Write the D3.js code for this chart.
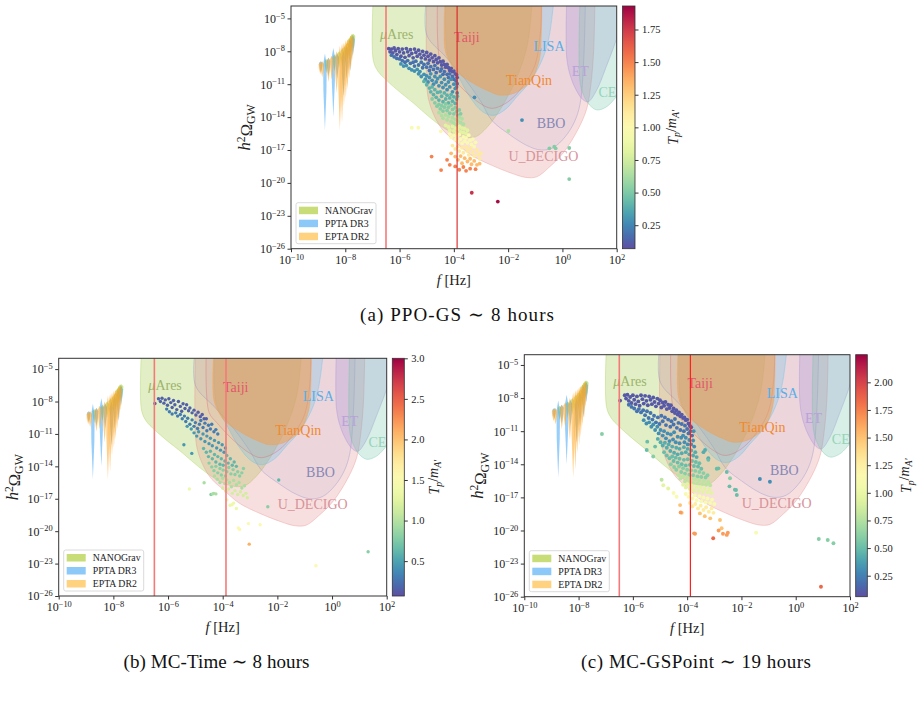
<!DOCTYPE html>
<html>
<head>
<meta charset="utf-8">
<script src="https://cdn.jsdelivr.net/npm/d3@7"></script>
<style>
  body { margin: 0; background: #fff; }
  svg { font-family: "Liberation Serif", "DejaVu Serif", serif; }
</style>
</head>
<body>
<svg id="fig" width="921" height="706"></svg>
<script>
// ---------------- data (log10 f [Hz], log10 h^2 Omega) ----------------
const xTicks = [-10, -8, -6, -4, -2, 0, 2];
const yTicks = [-26, -23, -20, -17, -14, -11, -8, -5];
const markFreqs = [-6.5, -3.88];

// detector curves, closed through the top of the plot
const muAres = [[-6.97,-3],[-6.97,-8.8],[-6.8,-9.8],[-6.5,-10.6],[-6.0,-11.7],[-5.5,-12.7],[-4.9,-14.0],[-4.3,-15.1],[-3.7,-15.8],[-3.2,-15.8],[-2.8,-15.0],[-2.45,-13.9],[-2.1,-12.5],[-1.7,-10.5],[-1.3,-7.5],[-1.1,-3]];
const uDecigo = [[-5.0,-3],[-5.0,-11.0],[-4.92,-12.5],[-4.7,-14.0],[-4.4,-15.2],[-4.0,-16.1],[-3.4,-17.4],[-2.6,-18.4],[-1.9,-19.1],[-1.35,-19.5],[-0.95,-19.45],[-0.5,-18.6],[0.05,-17.2],[0.6,-15.0],[0.9,-13.2],[1.05,-11.0],[1.15,-8],[1.2,-3]];
const bbo = [[-5.0,-3],[-5.0,-6.5],[-4.3,-8.5],[-3.6,-10.5],[-3.0,-12.6],[-2.6,-14.3],[-2.0,-15.5],[-1.3,-16.6],[-0.8,-17.0],[-0.35,-16.8],[0.1,-15.8],[0.45,-14.4],[0.65,-12.8],[0.78,-9],[0.85,-3]];
const lisa = [[-4.3,-3],[-4.25,-8.0],[-4.05,-9.3],[-3.85,-10.2],[-3.4,-12.2],[-2.95,-13.5],[-2.55,-13.85],[-2.1,-13.3],[-1.7,-12.2],[-1.2,-10.8],[-0.75,-8.8],[-0.5,-6.8],[-0.3,-3]];
const taiji = [[-4.6,-3],[-4.5,-9.0],[-4.2,-10.0],[-3.6,-11.6],[-3.0,-12.8],[-2.6,-13.2],[-2.0,-12.6],[-1.4,-11.0],[-1.0,-9.2],[-0.8,-6],[-0.78,-3]];
const tianqin = [[-4.32,-3],[-4.32,-7.9],[-4.1,-9.2],[-3.9,-9.86],[-3.28,-10.93],[-2.67,-11.69],[-2.3,-12.0],[-1.8,-11.84],[-1.19,-10.78],[-0.85,-8.8],[-0.78,-6.5],[-0.76,-3]];
const et = [[0.16,-3],[0.16,-8.6],[0.3,-10.3],[0.5,-11.5],[0.75,-12.4],[0.95,-12.6],[1.25,-11.6],[1.6,-9.5],[2.1,-6],[2.3,-3]];
const ce = [[0.65,-3],[0.65,-10.8],[0.8,-12.1],[1.0,-12.9],[1.27,-13.35],[1.6,-13.1],[1.9,-12.4],[2.2,-11.2],[2.4,-3]];

// PTA free-spectrum bins: [log10 f, upper, lower]
const nanograv = [[-8.70,-8.7,-10.0],[-8.40,-8.3,-9.8],[-8.23,-8.0,-9.5],[-8.10,-7.7,-9.5],[-8.00,-7.5,-9.0],[-7.92,-7.2,-8.8],[-7.86,-6.8,-8.6],[-7.80,-6.6,-8.2],[-7.75,-6.4,-8.0],[-7.70,-6.4,-7.8]];
const ppta = [[-8.90,-8.9,-9.9],[-8.75,-8.2,-15.2],[-8.62,-8.6,-10.3],[-8.44,-7.7,-14.0],[-8.30,-8.2,-10.5],[-8.07,-8.0,-12.1],[-7.95,-7.5,-10.5],[-7.82,-6.9,-9.8],[-7.72,-6.6,-8.4]];
const epta = [[-8.92,-9.0,-10.1],[-8.85,-8.9,-10.4],[-8.62,-8.6,-10.8],[-8.50,-8.4,-10.6],[-8.32,-8.0,-11.8],[-8.20,-7.5,-15.2],[-8.12,-7.3,-14.5],[-8.05,-7.2,-13.0],[-7.98,-7.0,-12.3],[-7.92,-6.9,-11.5],[-7.86,-6.8,-10.5],[-7.80,-6.6,-9.8],[-7.75,-6.5,-8.8]];

// scattered points, grouped by T_p / m_A'
const scatterA = [
  [0.10, [[-6.40,-7.75],[-6.35,-8.05],[-6.30,-7.80],[-6.25,-8.15],[-6.20,-7.70],[-6.15,-7.95],[-6.10,-8.30],[-6.05,-7.75],[-6.00,-8.05],[-5.95,-8.45],[-5.90,-7.80],[-5.85,-8.15],[-5.80,-8.55],[-5.75,-7.75],[-5.70,-8.05],[-5.65,-8.40],[-5.60,-7.85],[-5.55,-8.20],[-5.50,-8.60],[-5.45,-7.80],[-5.40,-8.10],[-5.35,-8.45],[-5.30,-7.90],[-5.25,-8.25],[-5.20,-8.60],[-5.15,-8.00],[-5.10,-8.35],[-5.05,-8.70],[-5.00,-8.10],[-4.95,-8.45],[-4.90,-8.80],[-4.85,-8.25],[-4.80,-8.60],[-4.75,-8.95],[-4.70,-8.40],[-4.65,-8.75],[-4.60,-9.05],[-4.55,-8.60],[-4.50,-8.95],[-4.45,-9.25],[-4.40,-8.90],[-4.35,-9.20],[-4.30,-9.45],[-4.25,-9.20],[-4.20,-9.50],[-4.15,-9.75],[-4.10,-9.55],[-4.05,-9.85],[-4.00,-9.80],[-3.95,-10.05],[-3.90,-10.15],[-3.88,-10.40]]],
  [0.18, [[-6.30,-8.35],[-6.20,-8.50],[-6.10,-8.65],[-6.00,-8.70],[-5.90,-8.85],[-5.80,-9.00],[-5.70,-8.85],[-5.60,-9.10],[-5.50,-9.00],[-5.45,-9.35],[-5.40,-8.90],[-5.30,-9.25],[-5.20,-9.00],[-5.15,-9.50],[-5.10,-9.20],[-5.00,-9.45],[-4.95,-9.10],[-4.90,-9.75],[-4.85,-9.40],[-4.75,-9.65],[-4.70,-9.30],[-4.65,-9.95],[-4.60,-9.55],[-4.50,-9.80],[-4.45,-9.60],[-4.40,-10.10],[-4.35,-9.85],[-4.25,-10.10],[-4.20,-10.40],[-4.15,-10.05],[-4.05,-10.30],[-4.00,-10.55],[-3.92,-10.70],[-3.88,-10.95]]],
  [0.28, [[-5.95,-9.15],[-5.85,-9.35],[-5.75,-9.30],[-5.65,-9.55],[-5.55,-9.70],[-5.45,-9.80],[-5.35,-9.65],[-5.30,-10.05],[-5.25,-9.85],[-5.20,-10.30],[-5.10,-10.10],[-5.05,-10.55],[-5.00,-10.25],[-4.95,-10.80],[-4.90,-10.40],[-4.85,-10.05],[-4.80,-10.65],[-4.75,-11.00],[-4.70,-10.30],[-4.65,-10.80],[-4.60,-10.50],[-4.55,-11.15],[-4.50,-10.30],[-4.45,-10.85],[-4.40,-11.30],[-4.35,-10.55],[-4.30,-11.05],[-4.25,-11.50],[-4.20,-10.80],[-4.15,-11.25],[-4.10,-10.55],[-4.05,-11.70],[-4.00,-11.00],[-3.95,-11.40],[-3.90,-11.25],[-3.88,-11.80],[-3.24,-12.2],[-1.49,-14.27]]],
  [0.40, [[-5.10,-10.75],[-5.00,-11.05],[-4.90,-11.35],[-4.85,-11.70],[-4.80,-11.25],[-4.75,-11.95],[-4.70,-11.50],[-4.65,-12.20],[-4.60,-11.75],[-4.55,-12.45],[-4.50,-11.70],[-4.45,-12.10],[-4.40,-12.60],[-4.35,-11.80],[-4.30,-12.35],[-4.25,-12.00],[-4.20,-12.70],[-4.15,-12.25],[-4.10,-11.95],[-4.05,-12.55],[-4.00,-12.15],[-3.95,-12.75],[-3.90,-12.35],[-3.87,-12.10]]],
  [0.52, [[-4.80,-12.35],[-4.70,-12.70],[-4.62,-13.00],[-4.55,-12.85],[-4.50,-13.25],[-4.45,-12.95],[-4.40,-13.45],[-4.35,-13.10],[-4.30,-12.80],[-4.25,-13.40],[-4.20,-13.10],[-4.15,-13.65],[-4.10,-12.90],[-4.05,-13.30],[-4.00,-13.70],[-3.95,-13.15],[-3.90,-13.50],[-3.85,-13.85],[-3.80,-13.35],[-3.75,-13.70],[-0.48,-16.85],[-0.30,-16.7],[-0.25,-16.85],[0.25,-16.82],[0.25,-19.65]]],
  [0.64, [[-4.55,-13.60],[-4.45,-13.85],[-4.40,-14.10],[-4.30,-13.80],[-4.25,-14.25],[-4.20,-13.95],[-4.10,-14.40],[-4.05,-14.05],[-4.00,-14.55],[-3.95,-14.20],[-3.90,-14.70],[-3.85,-14.35],[-3.80,-14.00],[-3.75,-14.50],[-3.70,-14.15],[-3.65,-14.65],[-1.99,-15.27]]],
  [0.82, [[-4.30,-14.75],[-4.20,-14.90],[-4.15,-15.20],[-4.05,-14.85],[-4.00,-15.25],[-3.95,-15.00],[-3.90,-15.45],[-3.85,-15.10],[-3.80,-14.85],[-3.75,-15.35],[-3.70,-15.00],[-3.65,-15.40],[-3.60,-15.05],[-3.55,-15.50],[-3.50,-15.20]]],
  [0.98, [[-4.15,-15.55],[-4.10,-15.85],[-4.00,-15.65],[-3.95,-16.05],[-3.90,-15.75],[-3.85,-16.25],[-3.80,-15.60],[-3.75,-16.00],[-3.70,-16.40],[-3.65,-15.80],[-3.60,-16.20],[-3.55,-15.90],[-3.50,-16.35],[-3.45,-15.65],[-3.40,-16.10],[-3.35,-16.50],[-3.30,-16.00],[-3.25,-16.70],[-3.20,-16.30],[-5.55,-14.97],[-5.31,-14.97],[-4.48,-15.3]]],
  [1.12, [[-4.05,-16.60],[-3.95,-16.90],[-3.85,-16.70],[-3.80,-17.10],[-3.70,-16.80],[-3.65,-17.25],[-3.55,-16.75],[-3.50,-17.10],[-3.45,-17.45],[-3.40,-16.85],[-3.30,-17.20],[-3.25,-17.55],[-3.15,-17.00],[-3.10,-17.40],[-3.05,-17.80],[-3.00,-17.30]]],
  [1.32, [[-4.10,-17.30],[-3.95,-17.60],[-3.85,-17.90],[-3.75,-17.55],[-3.70,-18.20],[-3.60,-17.75],[-3.50,-18.05],[-3.40,-17.80],[-3.35,-18.30],[-3.25,-18.00],[-3.15,-18.35],[-3.05,-18.25]]],
  [1.50, [[-4.82,-17.6],[-4.47,-18.83],[-4.25,-17.9],[-4.15,-18.35],[-3.95,-18.5],[-3.80,-18.8],[-3.65,-18.55],[-3.55,-18.9],[-3.40,-18.7],[-3.20,-18.75]]],
  [1.78, [[-3.34,-20.9]]],
  [1.90, [[-2.38,-21.7]]]
];

const scatterB = [
  [0.15, [[-6.48,-8.18],[-6.35,-7.75],[-6.28,-8.0],[-6.22,-7.7],[-6.15,-8.15],[-6.1,-7.85],[-6.02,-8.35],[-5.97,-7.75],[-5.9,-8.1],[-5.85,-8.55],[-5.8,-7.9],[-5.75,-8.3],[-5.68,-8.75],[-5.62,-8.0],[-5.55,-8.45],[-5.5,-8.9],[-5.45,-8.2],[-5.38,-8.65],[-5.32,-8.3],[-5.25,-8.85],[-5.2,-8.6],[-5.12,-9.05],[-5.05,-8.8],[-4.98,-9.25],[-4.9,-9.0],[-4.82,-9.4],[-4.75,-9.2],[-4.68,-9.6],[-4.6,-9.6]]],
  [0.30, [[-6.05,-8.7],[-5.95,-8.95],[-5.85,-9.15],[-5.72,-9.05],[-5.65,-9.35],[-5.55,-9.2],[-5.48,-9.6],[-5.4,-9.35],[-5.35,-9.85],[-5.28,-9.55],[-5.2,-10.1],[-5.12,-9.7],[-5.05,-10.3],[-5.0,-9.95],[-4.92,-10.5],[-4.85,-10.1],[-4.8,-9.75],[-4.72,-10.4],[-4.65,-10.0],[-4.58,-10.7],[-4.52,-10.2],[-4.45,-10.55],[-4.4,-10.1],[-4.32,-10.8],[-4.25,-10.6],[-4.18,-11.0]]],
  [0.45, [[-5.3,-10.3],[-5.15,-10.55],[-5.05,-10.9],[-4.95,-11.2],[-4.88,-10.8],[-4.8,-11.45],[-4.72,-11.0],[-4.65,-11.7],[-4.58,-11.2],[-4.5,-11.9],[-4.45,-11.4],[-4.38,-12.1],[-4.3,-11.6],[-4.22,-12.3],[-4.15,-11.8],[-4.08,-12.5],[-4.02,-12.0],[-3.95,-12.7],[-3.9,-12.3],[-5.42,-12.0],[-5.13,-12.8]]],
  [0.62, [[-4.7,-12.35],[-4.6,-12.7],[-4.52,-13.1],[-4.45,-12.6],[-4.38,-13.3],[-4.3,-12.9],[-4.25,-13.6],[-4.18,-13.1],[-4.1,-13.8],[-4.05,-13.3],[-3.98,-13.9],[-3.92,-13.5],[-3.85,-13.0],[-3.8,-13.7],[-3.72,-13.3],[-3.65,-13.9],[-3.58,-13.6],[-3.5,-14.0],[-1.95,-15.27]]],
  [0.80, [[-4.5,-13.7],[-4.4,-14.05],[-4.32,-14.4],[-4.25,-14.0],[-4.18,-14.6],[-4.1,-14.2],[-4.05,-14.8],[-3.98,-14.35],[-3.9,-14.9],[-3.85,-14.5],[-3.78,-14.1],[-3.7,-14.7],[-3.62,-14.3],[-3.55,-14.75],[-3.45,-14.5],[-3.38,-14.9],[-3.3,-14.6],[-3.24,-14.2],[-4.43,-16.6],[-2.35,-17.74],[1.32,-21.9]]],
  [0.95, [[-4.3,-14.9],[-4.2,-15.2],[-4.1,-15.5],[-4.0,-15.1],[-3.92,-15.6],[-3.85,-15.25],[-3.75,-15.5],[-3.68,-15.9],[-3.6,-15.3],[-3.5,-15.7],[-3.4,-15.5],[-3.3,-16.0],[-3.2,-15.8],[-4.68,-15.52],[-4.37,-16.55],[-4.33,-16.5],[-4.25,-16.55]]],
  [1.15, [[-4.0,-16.0],[-3.88,-16.3],[-3.78,-16.1],[-3.65,-16.5],[-3.55,-16.25],[-3.45,-16.6],[-3.35,-16.35],[-3.25,-16.7],[-3.15,-16.5],[-3.1,-16.9]]],
  [1.35, [[-5.22,-16.1],[-3.85,-17.1],[-3.73,-17.6],[-3.66,-17.55],[-3.6,-17.4],[-3.5,-17.9]]],
  [1.55, [[-3.43,-19.7],[-3.38,-19.85],[-3.06,-19.3],[-2.63,-19.4],[-0.59,-23.2]]],
  [2.10, [[-3.03,-21.2]]]
];

const scatterC = [
  [0.10, [[-6.47,-8.23],[-6.3,-7.75],[-6.25,-8.05],[-6.2,-7.7],[-6.15,-8.25],[-6.1,-7.9],[-6.05,-8.45],[-6.0,-7.75],[-5.95,-8.15],[-5.9,-8.55],[-5.85,-7.85],[-5.8,-8.3],[-5.75,-8.7],[-5.7,-7.75],[-5.65,-8.1],[-5.6,-8.5],[-5.55,-7.8],[-5.5,-8.25],[-5.45,-8.65],[-5.4,-7.85],[-5.35,-8.15],[-5.3,-8.55],[-5.25,-7.95],[-5.2,-8.35],[-5.15,-8.75],[-5.1,-8.05],[-5.05,-8.5],[-5.0,-8.2],[-4.95,-8.85],[-4.9,-8.4],[-4.85,-8.7],[-4.8,-8.35],[-4.75,-9.0],[-4.7,-8.6],[-4.65,-8.9],[-4.6,-8.65],[-4.55,-9.2],[-4.5,-8.95],[-4.45,-9.35],[-4.4,-9.1],[-4.35,-9.5],[-4.3,-9.3],[-4.25,-9.65],[-4.2,-9.5],[-4.15,-9.8],[-4.1,-9.75],[-4.05,-10.0],[-4.0,-9.95],[-3.95,-10.3],[-3.9,-10.5],[-3.85,-10.65]]],
  [0.20, [[-6.15,-8.6],[-6.05,-8.8],[-5.95,-8.95],[-5.85,-9.2],[-5.78,-9.0],[-5.7,-9.3],[-5.62,-9.1],[-5.55,-9.55],[-5.48,-9.2],[-5.42,-9.8],[-5.35,-9.35],[-5.28,-9.95],[-5.22,-9.6],[-5.15,-10.2],[-5.08,-9.75],[-5.02,-10.35],[-4.95,-9.6],[-4.9,-10.1],[-4.82,-9.75],[-4.78,-10.45],[-4.7,-9.95],[-4.62,-10.6],[-4.58,-10.1],[-4.5,-10.4],[-4.45,-9.9],[-4.38,-10.7],[-4.32,-10.25],[-4.25,-10.9],[-4.2,-10.35],[-4.12,-11.0],[-4.08,-10.5],[-4.0,-10.8],[-3.95,-11.2],[-3.88,-11.0],[-3.82,-11.4]]],
  [0.30, [[-5.6,-10.0],[-5.5,-10.3],[-5.4,-10.2],[-5.32,-10.6],[-5.25,-10.4],[-5.18,-10.9],[-5.1,-10.6],[-5.05,-11.2],[-4.98,-10.9],[-4.9,-11.4],[-4.85,-11.0],[-4.78,-11.65],[-4.72,-11.2],[-4.65,-11.9],[-4.6,-11.3],[-4.52,-11.75],[-4.48,-11.1],[-4.42,-12.0],[-4.35,-11.5],[-4.28,-12.1],[-4.22,-11.6],[-4.15,-11.4],[-4.1,-12.0],[-4.05,-11.6],[-3.98,-12.2],[-3.92,-11.8],[-3.85,-12.2],[-3.78,-11.85],[-3.74,-12.4],[-3.76,-11.0],[-1.32,-15.34],[-0.95,-15.58]]],
  [0.42, [[-5.08,-11.7],[-4.98,-12.0],[-4.9,-12.3],[-4.82,-12.05],[-4.75,-12.5],[-4.68,-12.2],[-4.62,-12.8],[-4.55,-12.4],[-4.48,-12.95],[-4.4,-12.5],[-4.35,-13.1],[-4.28,-12.6],[-4.2,-13.0],[-4.12,-12.45],[-4.05,-12.9],[-3.98,-12.6],[-3.92,-13.1],[-3.85,-12.75],[-3.78,-13.2],[-3.7,-12.9],[-3.65,-13.35],[-3.4,-12.9],[-3.34,-12.7],[-3.22,-13.46]]],
  [0.50, [[-5.47,-11.95],[-5.49,-12.7],[-5.18,-12.4],[-4.85,-12.9],[-4.75,-13.2],[-4.65,-13.45],[-4.55,-13.3],[-4.5,-13.7],[-4.42,-13.4],[-4.35,-13.85],[-4.28,-13.5],[-4.2,-14.0],[-4.12,-13.6],[-4.05,-14.1],[-3.98,-13.55],[-3.9,-14.05],[-3.82,-13.7],[-3.75,-14.15],[-3.68,-13.8],[-3.6,-14.2],[-3.55,-13.9],[-3.48,-14.4],[-3.22,-13.6],[-2.91,-14.4],[-2.85,-14.37],[-2.54,-14.7],[-2.24,-16.3],[-2.44,-16.0],[-2.2,-16.33],[-2.17,-16.78]]],
  [0.60, [[-7.14,-11.26],[-5.25,-13.3],[-4.6,-14.0],[-4.48,-14.25],[-4.4,-14.5],[-4.3,-14.2],[-4.22,-14.7],[-4.15,-14.35],[-4.08,-14.85],[-4.0,-14.5],[-3.92,-14.95],[-3.85,-14.55],[-3.78,-15.0],[-3.7,-14.6],[-3.62,-15.1],[-3.55,-14.7],[-3.48,-15.15],[-3.4,-14.8],[-3.32,-15.2],[-3.25,-15.0],[-2.42,-15.27],[0.85,-20.77],[1.18,-20.86],[1.39,-21.16]]],
  [0.78, [[-4.94,-15.4],[-4.32,-15.0],[-4.25,-15.3],[-4.15,-15.1],[-4.08,-15.55],[-4.0,-15.25],[-3.92,-15.6],[-3.85,-15.3],[-3.78,-15.7],[-3.7,-15.35],[-3.62,-15.75],[-3.55,-15.45],[-3.45,-15.8],[-3.38,-15.5],[-3.3,-15.85],[-3.22,-15.6],[-3.15,-15.9]]],
  [0.95, [[-4.88,-15.9],[-4.7,-16.2],[-4.15,-15.85],[-4.05,-16.1],[-3.98,-15.8],[-3.9,-16.25],[-3.82,-15.95],[-3.75,-16.35],[-3.65,-16.05],[-3.58,-16.45],[-3.5,-16.1],[-3.42,-16.5],[-3.35,-16.2],[-3.25,-16.55],[-3.18,-16.25],[-3.1,-16.6]]],
  [1.10, [[-4.5,-16.6],[-4.39,-16.94],[-4.05,-16.7],[-3.95,-16.95],[-3.88,-16.6],[-3.8,-17.1],[-3.72,-16.8],[-3.65,-17.25],[-3.55,-16.9],[-3.48,-17.35],[-3.4,-17.0],[-3.32,-17.45],[-3.25,-17.1],[-3.15,-17.5],[-3.08,-17.2],[-3.0,-17.6],[-1.46,-20.2]]],
  [1.28, [[-3.9,-17.5],[-3.8,-17.8],[-3.7,-17.6],[-3.6,-18.0],[-3.5,-17.75],[-3.4,-18.15],[-3.3,-17.9],[-3.2,-18.3],[-3.1,-18.0],[-3.03,-18.4]]],
  [1.50, [[-4.26,-17.7],[-4.2,-18.4],[-3.53,-18.45],[-3.35,-18.7],[-3.15,-18.9],[-2.79,-19.05],[-2.73,-19.8]]],
  [1.65, [[-4.24,-18.36],[-3.74,-20.26],[-3.71,-20.3],[-2.84,-20.0],[-2.68,-20.3],[-2.5,-20.2],[-2.54,-20.4]]],
  [1.85, [[-3.04,-20.7],[0.93,-25.1]]]
];

// ---------------- drawing ----------------
const P = v => Math.pow(10, v);
const svg = d3.select("#fig");
const defs = svg.append("defs");

const detectors = [
  {name: "μAres",   curve: muAres,  fill: "#a6cc4f", op: 0.32, text: "#9db46c", at: [-6.72, -6.91]},
  {name: "U_DECIGO", curve: uDecigo, fill: "#e58a8a", op: 0.27, text: "#d6939a", at: [-1.99, -17.98]},
  {name: "BBO",     curve: bbo,     fill: "#8c8cc8", op: 0.10, text: "#8787b5", at: [-0.95, -14.97]},
  {name: "LISA",    curve: lisa,    fill: "#66c2e8", op: 0.28, text: "#59aee9", at: [-1.07, -7.95]},
  {name: "Taiji",   curve: taiji,   fill: "#e06070", op: 0.06, text: "#e2576b", at: [-3.99, -7.13]},
  {name: "TianQin", curve: tianqin, fill: "#f0a050", op: 0.55, text: "#f2892e", at: [-2.08, -11.08]},
  {name: "ET",      curve: et,      fill: "#a58bd6", op: 0.28, text: "#b7a2d9", at: [0.34, -10.26]},
  {name: "CE",      curve: ce,      fill: "#70c4a8", op: 0.28, text: "#95d4b8", at: [1.33, -12.2]}
];
const ptas = [
  {name: "NANOGrav", bins: nanograv, fill: "#9ccc3c", swatch: "#c8dc78"},
  {name: "PPTA DR3", bins: ppta,     fill: "#42a5f5", swatch: "#8cc8f8"},
  {name: "EPTA DR2", bins: epta,     fill: "#ffa726", swatch: "#ffd280"}
];

const panels = [
  {key: "a", l: 291, r: 616.7, t: 6, b: 248.7, yTop: -3.87, cbx: 622.5, cbw: 12.5,
   cdom: [0.07, 1.93], cticks: [0.25, 0.5, 0.75, 1, 1.25, 1.5, 1.75], cfmt: ".2f", cbLab: 55,
   lines: [["#f47a7a", 1.6], ["#d92323", 1.1]], pts: scatterA, dot: 1.9,
   cap: "(a) PPO-GS ∼ 8 hours", capX: 457, capY: 321, capW: 194},
  {key: "b", l: 58.7, r: 386.7, t: 358.3, b: 596, yTop: -4.0, cbx: 392.3, cbw: 12,
   cdom: [0.07, 3.0], cticks: [0.5, 1, 1.5, 2, 2.5, 3], cfmt: ".1f", cbLab: 47,
   lines: [["#f47a7a", 1.6], ["#f47a7a", 1.6]], pts: scatterB, dot: 1.7,
   cap: "(b) MC-Time ∼ 8 hours", capX: 216.5, capY: 668, capW: 186},
  {key: "c", l: 524.3, r: 850, t: 354.7, b: 596.7, yTop: -4.07, cbx: 855.7, cbw: 11.6,
   cdom: [0.06, 2.25], cticks: [0.25, 0.5, 0.75, 1, 1.25, 1.5, 1.75, 2], cfmt: ".2f", cbLab: 55,
   lines: [["#f47a7a", 1.6], ["#ff1f1f", 1.2]], pts: scatterC, dot: 1.95,
   cap: "(c) MC-GSPoint ∼ 19 hours", capX: 696, capY: 668, capW: 230}
];

function powLabels(sel) {
  sel.each(function(d) {
    const e = Math.round(Math.log10(d));
    const t = d3.select(this).text("");
    t.append("tspan").text("10");
    t.append("tspan").attr("dy", "-0.5em").attr("font-size", "0.7em")
      .text(String(e).replace("-", "−"));
  });
}

panels.forEach(p => {
  const g = svg.append("g");
  const x = d3.scaleLog().domain([P(-10), P(2)]).range([p.l, p.r]);
  const y = d3.scaleLog().domain([P(-26), P(p.yTop)]).range([p.b, p.t]);
  const cmap = d3.scaleSequential(t => d3.interpolateSpectral(1 - t)).domain(p.cdom);

  defs.append("clipPath").attr("id", "clip-" + p.key)
    .append("rect").attr("x", p.l).attr("y", p.t).attr("width", p.r - p.l).attr("height", p.b - p.t);
  const plot = g.append("g").attr("clip-path", `url(#clip-${p.key})`);

  // detector sensitivity regions
  const line = d3.line().x(d => x(P(d[0]))).y(d => y(P(d[1]))).curve(d3.curveCatmullRom.alpha(0.5));
  detectors.forEach(det => {
    plot.append("path").attr("d", line(det.curve) + "Z")
      .attr("fill", det.fill).attr("fill-opacity", det.op)
      .attr("stroke", det.fill).attr("stroke-opacity", 0.4).attr("stroke-width", 0.9);
  });
  detectors.forEach(det => {
    const t = plot.append("text").attr("x", x(P(det.at[0]))).attr("y", y(P(det.at[1])))
      .attr("font-size", 14).attr("fill", det.text);
    if (det.name === "μAres") {
      t.append("tspan").attr("font-style", "italic").text("μ");
      t.append("tspan").text("Ares");
    } else t.text(det.name);
  });

  // PTA violins
  ptas.forEach(pt => {
    plot.append("g").selectAll("path").data(pt.bins).join("path")
      .attr("d", d => {
        const xc = x(P(d[0])), y0 = y(P(d[1])), y1 = y(P(d[2]));
        const ya = y0 + 0.15 * (y1 - y0), yb = y0 + 0.5 * (y1 - y0);
        return `M${xc},${y0}L${xc + 1.8},${ya}L${xc + 1.5},${yb}L${xc},${y1}L${xc - 1.5},${yb}L${xc - 1.8},${ya}Z`;
      })
      .attr("fill", pt.fill).attr("fill-opacity", 0.55);
  });

  // scatter
  p.pts.forEach(([tv, pts]) => {
    plot.append("g").selectAll("circle").data(pts).join("circle")
      .attr("cx", d => x(P(d[0]))).attr("cy", d => y(P(d[1]))).attr("r", p.dot)
      .attr("fill", cmap(tv));
  });

  // frequency marks
  markFreqs.forEach((f, i) => {
    plot.append("line").attr("x1", x(P(f))).attr("x2", x(P(f)))
      .attr("y1", p.t).attr("y2", p.b)
      .attr("stroke", p.lines[i][0]).attr("stroke-width", p.lines[i][1]);
  });

  // axes
  const xa = g.append("g").attr("transform", `translate(0,${p.b})`)
    .call(d3.axisBottom(x).tickValues(xTicks.map(P)).tickSize(3.5).tickSizeOuter(0).tickPadding(3));
  xa.selectAll(".tick text").call(powLabels);
  const ya = g.append("g").attr("transform", `translate(${p.l},0)`)
    .call(d3.axisLeft(y).tickValues(yTicks.map(P)).tickSize(3.5).tickSizeOuter(0).tickPadding(2.5));
  ya.selectAll(".tick text").call(powLabels);
  [xa, ya].forEach(a => {
    a.select(".domain").remove();
    a.selectAll("text").attr("font-size", 12).attr("fill", "#222").attr("font-family", "Liberation Serif");
    a.selectAll("line").attr("stroke", "#333");
  });
  g.append("rect").attr("x", p.l).attr("y", p.t).attr("width", p.r - p.l).attr("height", p.b - p.t)
    .attr("fill", "none").attr("stroke", "#333").attr("stroke-width", 1);

  // axis labels
  const xl = g.append("text").attr("x", (p.l + p.r) / 2).attr("y", p.b + 36)
    .attr("text-anchor", "middle").attr("font-size", 14.5).attr("fill", "#222");
  xl.append("tspan").attr("font-style", "italic").text("f");
  xl.append("tspan").text(" [Hz]");
  const yl = g.append("text").attr("transform", `translate(${p.l - 41},${(p.t + p.b) / 2}) rotate(-90)`)
    .attr("text-anchor", "middle").attr("font-size", 16.5).attr("fill", "#222");
  yl.append("tspan").attr("font-style", "italic").text("h");
  yl.append("tspan").attr("dy", "-0.45em").attr("font-size", "0.7em").text("2");
  yl.append("tspan").attr("dy", "0.45em").text("Ω");
  yl.append("tspan").attr("dy", "0.25em").attr("font-size", "0.72em").text("GW");

  // legend
  const lg = g.append("g").attr("transform", `translate(${p.l + 5},${p.b - 46})`);
  lg.append("rect").attr("width", 80).attr("height", 41).attr("rx", 2)
    .attr("fill", "#fff").attr("fill-opacity", 0.85).attr("stroke", "#d0d0d0").attr("stroke-width", 0.8);
  ptas.forEach((pt, i) => {
    lg.append("rect").attr("x", 3).attr("y", 4 + i * 13).attr("width", 19).attr("height", 7.5).attr("fill", pt.swatch);
    lg.append("text").attr("x", 29).attr("y", 11 + i * 13).attr("font-size", 9.8).attr("fill", "#222").text(pt.name);
  });

  // colorbar
  const gid = "grad-" + p.key;
  const grad = defs.append("linearGradient").attr("id", gid)
    .attr("x1", 0).attr("y1", 1).attr("x2", 0).attr("y2", 0);
  d3.range(0, 21).forEach(i => grad.append("stop").attr("offset", i / 20)
    .attr("stop-color", d3.interpolateSpectral(1 - i / 20)));
  g.append("rect").attr("x", p.cbx).attr("y", p.t).attr("width", p.cbw).attr("height", p.b - p.t)
    .attr("fill", `url(#${gid})`).attr("stroke", "#333").attr("stroke-width", 0.8);
  const cy = d3.scaleLinear().domain(p.cdom).range([p.b, p.t]);
  const ca = g.append("g").attr("transform", `translate(${p.cbx + p.cbw},0)`)
    .call(d3.axisRight(cy).tickValues(p.cticks).tickFormat(d3.format(p.cfmt)).tickSize(3.5).tickPadding(3.5));
  ca.select(".domain").remove();
  ca.selectAll("text").attr("font-size", 10.5).attr("fill", "#222").attr("font-family", "Liberation Serif");
  ca.selectAll("line").attr("stroke", "#333");
  const cl = g.append("text").attr("transform", `translate(${p.cbx + p.cbLab},${(p.t + p.b) / 2}) rotate(-90)`)
    .attr("text-anchor", "middle").attr("font-size", 14).attr("fill", "#222");
  cl.append("tspan").attr("font-style", "italic").text("T");
  cl.append("tspan").attr("dy", "0.3em").attr("font-size", "0.7em").attr("font-style", "italic").text("p");
  cl.append("tspan").attr("dy", "-0.3em").text("/");
  cl.append("tspan").attr("font-style", "italic").text("m");
  cl.append("tspan").attr("dy", "0.3em").attr("font-size", "0.7em").attr("font-style", "italic").text("A′");

  // caption
  svg.append("text").attr("x", p.capX).attr("y", p.capY).attr("text-anchor", "middle")
    .attr("font-size", 19).attr("textLength", p.capW).attr("lengthAdjust", "spacing")
    .attr("fill", "#111").text(p.cap);
});
</script>
</body>
</html>
